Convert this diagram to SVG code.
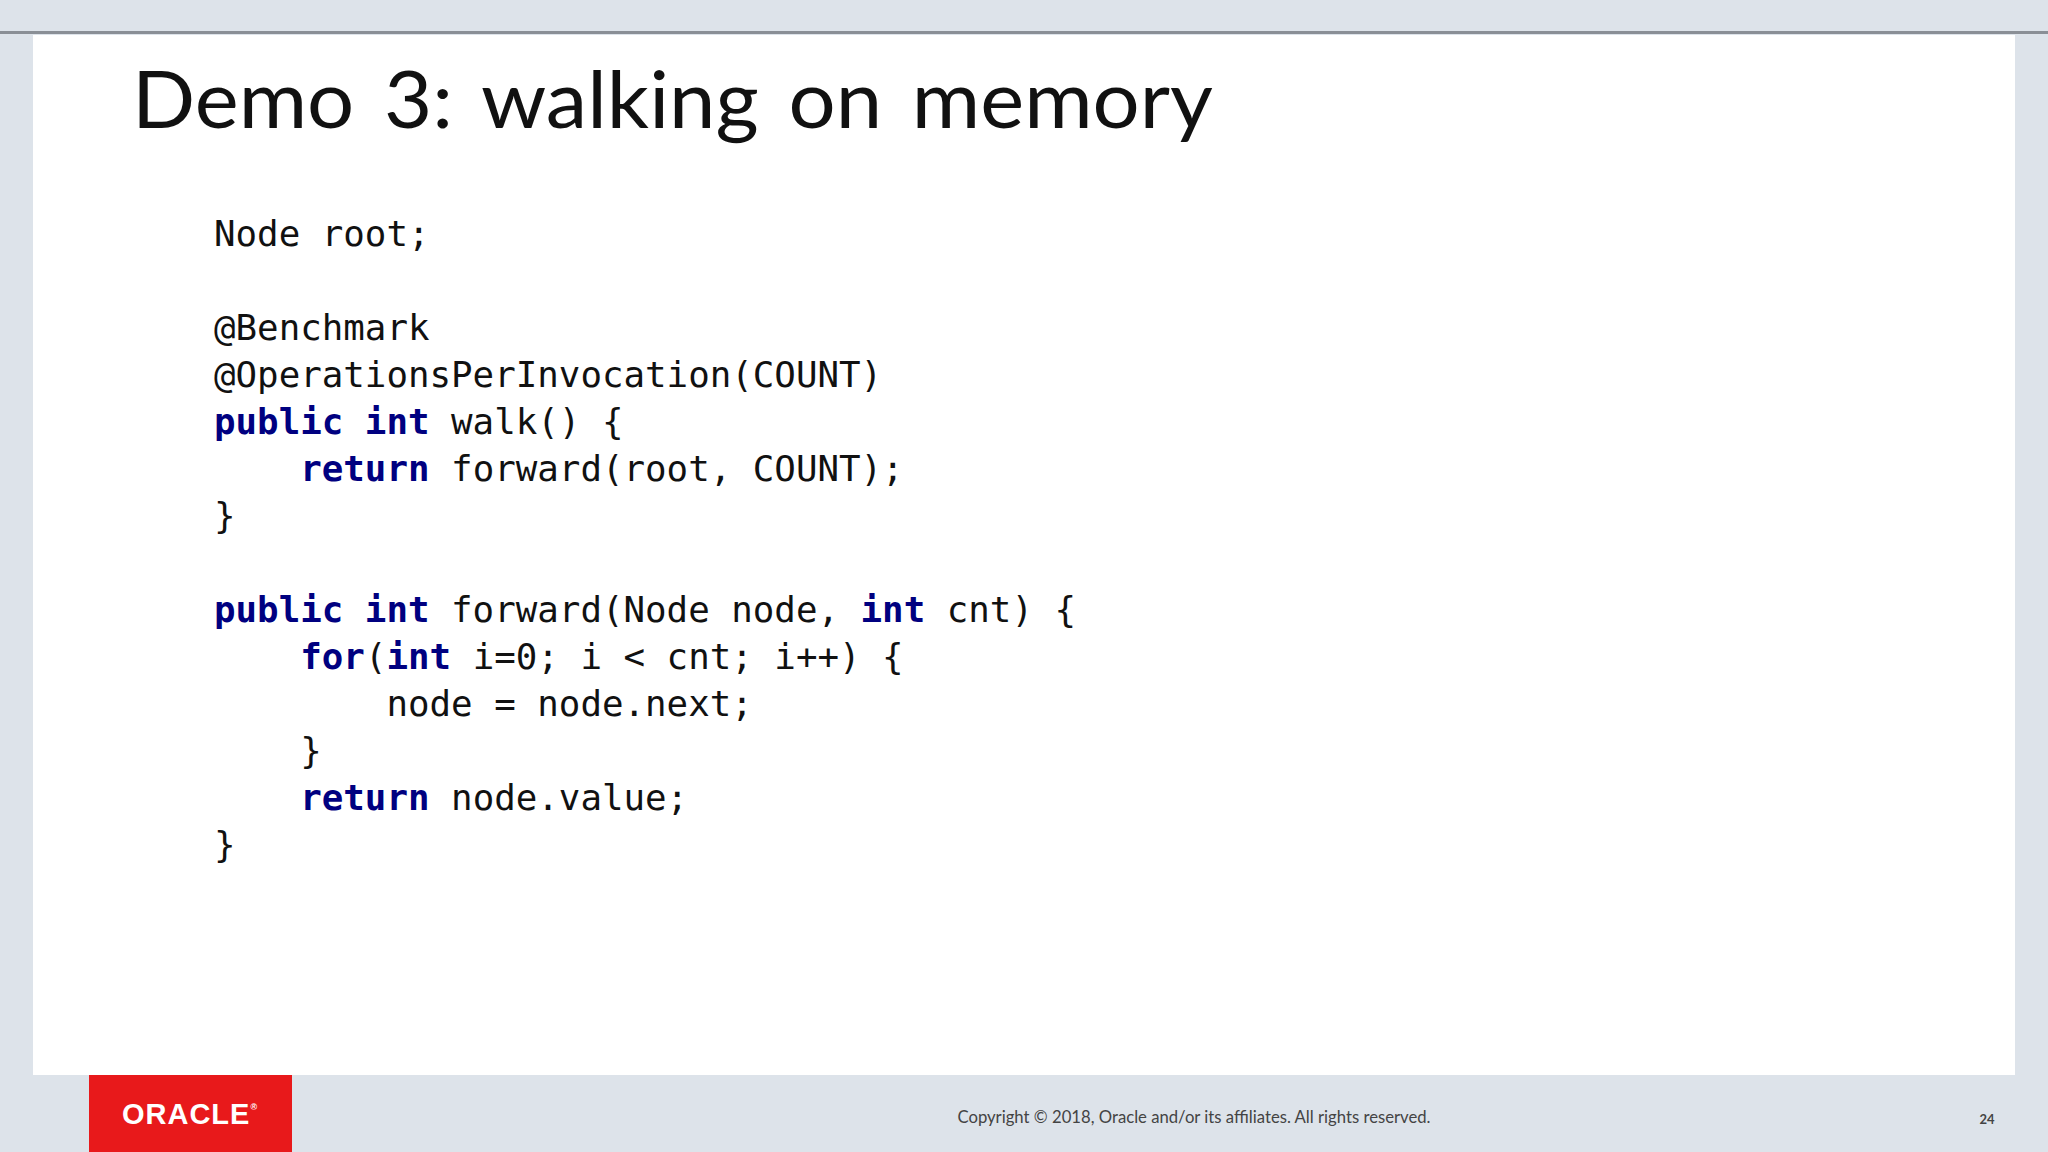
<svg xmlns="http://www.w3.org/2000/svg" width="2048" height="1152" viewBox="0 0 2048 1152">
<style>
.c{font-family:"DejaVu Sans Mono",monospace;font-size:35.8px;fill:#111;white-space:pre}
.k{font-weight:bold;fill:#000080}
</style>
<rect width="2048" height="1152" fill="#dde3ea"/>
<rect x="0" y="31" width="2048" height="3" fill="#8a8f96"/>
<rect x="33" y="35" width="1982" height="1040" fill="#ffffff"/>
<g id="title"><text x="132" y="128" font-family="Lato, 'DejaVu Sans', sans-serif" font-size="80" fill="#111" textLength="1081" lengthAdjust="spacingAndGlyphs" word-spacing="8">Demo 3: walking on memory</text></g>
<g id="code">
<text class="c" x="214" y="245.5">Node root;</text>
<text class="c" x="214" y="339.6">@Benchmark</text>
<text class="c" x="214" y="386.6">@OperationsPerInvocation(COUNT)</text>
<text class="c" x="214" y="433.6"><tspan class="k">public int</tspan> walk() {</text>
<text class="c" x="214" y="480.6">    <tspan class="k">return</tspan> forward(root, COUNT);</text>
<text class="c" x="214" y="527.6">}</text>
<text class="c" x="214" y="621.7"><tspan class="k">public int</tspan> forward(Node node, <tspan class="k">int</tspan> cnt) {</text>
<text class="c" x="214" y="668.7">    <tspan class="k">for</tspan>(<tspan class="k">int</tspan> i=0; i &lt; cnt; i++) {</text>
<text class="c" x="214" y="715.7">        node = node.next;</text>
<text class="c" x="214" y="762.7">    }</text>
<text class="c" x="214" y="809.7">    <tspan class="k">return</tspan> node.value;</text>
<text class="c" x="214" y="856.8">}</text>
</g>
<g id="footer">
<rect x="89" y="1075" width="203" height="77" fill="#e8191b"/>
<text x="190" y="1124" text-anchor="middle" font-family="'Liberation Sans', sans-serif" font-size="29" font-weight="bold" fill="#fff" letter-spacing="1">ORACLE<tspan font-size="9" dy="-14">®</tspan></text>
<text x="1194" y="1123" text-anchor="middle" font-family="Lato, sans-serif" font-size="16.7" fill="#444">Copyright © 2018, Oracle and/or its affiliates. All rights reserved.</text>
<text x="1987" y="1124" text-anchor="middle" font-family="Lato, sans-serif" font-size="13" font-weight="bold" fill="#444">24</text>
</g>
</svg>
